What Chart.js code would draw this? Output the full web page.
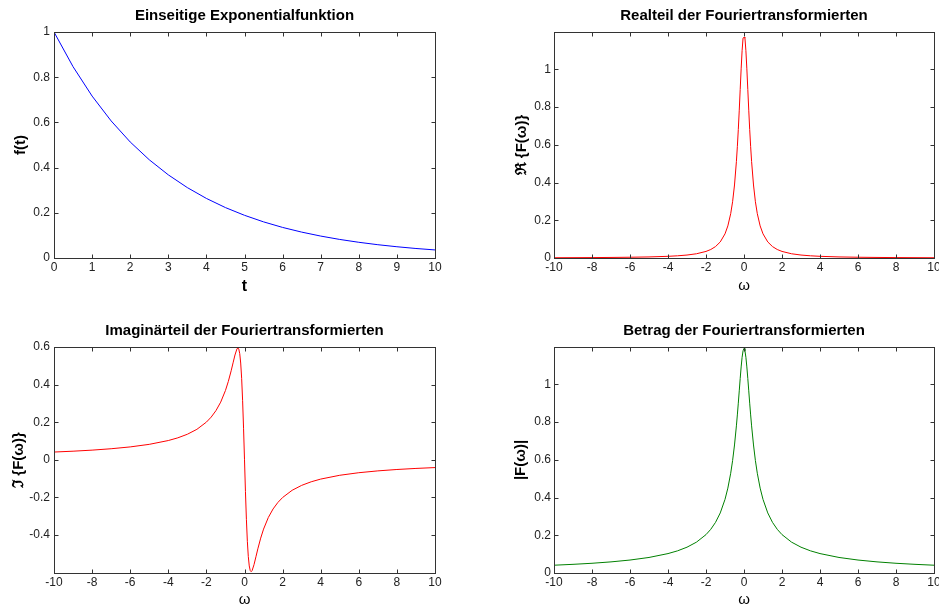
<!DOCTYPE html>
<html><head><meta charset="utf-8">
<script src="https://cdn.jsdelivr.net/npm/chart.js@4.4.0/dist/chart.umd.min.js"></script>
<style>
html,body{margin:0;padding:0;background:#fff;overflow:hidden;width:939px;height:610px;}
canvas{position:absolute;left:0;top:0;}
</style></head><body>
<canvas id="c1" width="939" height="610"></canvas>
<canvas id="c2" width="939" height="610"></canvas>
<canvas id="c3" width="939" height="610"></canvas>
<canvas id="c4" width="939" height="610"></canvas>
<script>
// ---- data ----
const tValues = [0,0.5,1,1.5,2,2.5,3,3.5,4,4.5,5,5.5,6,6.5,7,7.5,8,8.5,9,9.5,10];
const fValues = [1.000,0.8465,0.7165,0.6065,0.5134,0.4346,0.3679,0.3114,0.2636,0.2231,0.1889,0.1599,0.1353,0.1146,0.0970,0.0821,0.0695,0.0588,0.0498,0.0421,0.0357];

const omegaValues = [-10,-9,-8,-7,-6,-5,-4,-3.5,-3,-2.5,-2,-1.75,-1.5,-1.25,-1,-0.85,-0.7,-0.6,-0.5,-0.4,-0.35,-0.3,-0.25,-0.2,-0.15,-0.1,-0.05,
  0,
  0.05,0.1,0.15,0.2,0.25,0.3,0.35,0.4,0.5,0.6,0.7,0.85,1,1.25,1.5,1.75,2,2.5,3,3.5,4,5,6,7,8,9,10];

const realValues = [0.0014,0.0018,0.0022,0.0029,0.0040,0.0057,0.0089,0.0116,0.0157,0.0225,0.0348,0.0450,0.0605,0.0852,0.1280,0.1701,0.2349,0.2984,0.3870,0.5112,0.5901,0.6812,0.7835,0.8934,1.0027,1.0988,1.1658,
  1.17,
  1.1658,1.0988,1.0027,0.8934,0.7835,0.6812,0.5901,0.5112,0.3870,0.2984,0.2349,0.1701,0.1280,0.0852,0.0605,0.0450,0.0348,0.0225,0.0157,0.0116,0.0089,0.0057,0.0040,0.0029,0.0022,0.0018,0.0014];

const imagValues = [0.0413,0.0458,0.0515,0.0589,0.0686,0.0822,0.1025,0.1169,0.1359,0.1621,0.2005,0.2271,0.2614,0.3068,0.3686,0.4165,0.4736,0.5158,0.5575,0.5891,0.5950,0.5887,0.5644,0.5148,0.4334,0.3166,0.1680,
  0,
  -0.1680,-0.3166,-0.4334,-0.5148,-0.5644,-0.5887,-0.5950,-0.5891,-0.5575,-0.5158,-0.4736,-0.4165,-0.3686,-0.3068,-0.2614,-0.2271,-0.2005,-0.1621,-0.1359,-0.1169,-0.1025,-0.0822,-0.0686,-0.0589,-0.0515,-0.0458,-0.0413];

const absValues = [0.0413,0.0459,0.0516,0.0589,0.0687,0.0824,0.1029,0.1174,0.1368,0.1637,0.2035,0.2315,0.2683,0.3184,0.3902,0.4499,0.5287,0.5959,0.6786,0.7799,0.8380,0.9003,0.9656,1.0311,1.0923,1.1435,1.1778,
  1.19,
  1.1778,1.1435,1.0923,1.0311,0.9656,0.9003,0.8380,0.7799,0.6786,0.5959,0.5287,0.4499,0.3902,0.3184,0.2683,0.2315,0.2035,0.1637,0.1368,0.1174,0.1029,0.0824,0.0687,0.0589,0.0516,0.0459,0.0413];

const tTicks = [0,1,2,3,4,5,6,7,8,9,10];
const omegaTicks = [-10,-8,-6,-4,-2,0,2,4,6,8,10];
const fTicks = [0,0.2,0.4,0.6,0.8,1];
const realTicks = [0,0.2,0.4,0.6,0.8,1];
const imagTicks = [-0.4,-0.2,0,0.2,0.4,0.6];
const absTicks = [0,0.2,0.4,0.6,0.8,1];

const titles = ['Einseitige Exponentialfunktion','Realteil der Fouriertransformierten','Imaginärteil der Fouriertransformierten','Betrag der Fouriertransformierten'];
const yLabels = ['f(t)','\u211C {F(\u03C9)}','\u2111 {F(\u03C9)}','|F(\u03C9)|'];
const xLabels = ['t','\u03C9','\u03C9','\u03C9'];

// ---- drawing ----
const FONT = "'Liberation Sans', Arial, Helvetica, sans-serif";
const AXIS_COLOR = '#333';

const boxTicks = {
  id: 'boxTicks',
  afterDraw(chart) {
    const {ctx, chartArea, scales} = chart;
    const L = Math.round(chartArea.left) + 0.5, R = Math.round(chartArea.right) + 0.5;
    const T = Math.round(chartArea.top) + 0.5, B = Math.round(chartArea.bottom) + 0.5;
    const len = 4;
    ctx.save();
    ctx.strokeStyle = AXIS_COLOR;
    ctx.lineWidth = 1;
    ctx.beginPath();
    scales.x.ticks.forEach(t => {
      const px = Math.round(scales.x.getPixelForValue(t.value)) + 0.5;
      ctx.moveTo(px, B); ctx.lineTo(px, B - len);
      ctx.moveTo(px, T); ctx.lineTo(px, T + len);
    });
    scales.y.ticks.forEach(t => {
      const py = Math.round(scales.y.getPixelForValue(t.value)) + 0.5;
      ctx.moveTo(L, py); ctx.lineTo(L + len, py);
      ctx.moveTo(R, py); ctx.lineTo(R - len, py);
    });
    ctx.stroke();
    ctx.strokeRect(L, T, R - L, B - T);
    ctx.restore();
  }
};

function makeChart(id, cfg) {
  const points = cfg.xs.map((x, i) => ({x: x, y: cfg.ys[i]}));
  return new Chart(document.getElementById(id), {
    type: 'line',
    data: { datasets: [{ data: points, borderColor: cfg.color, borderWidth: 1, pointRadius: 0, tension: 0, fill: false }] },
    options: {
      responsive: false, animation: false, devicePixelRatio: 1,
      events: [],
      layout: { padding: cfg.padding },
      plugins: {
        legend: { display: false }, tooltip: { enabled: false },
        title: { display: true, text: cfg.title, fullSize: false, color: '#000',
          font: { family: FONT, size: 15, weight: 'bold' }, padding: { top: 0, bottom: 7 } }
      },
      scales: {
        x: {
          type: 'linear', min: cfg.xmin, max: cfg.xmax,
          grid: { display: false, drawTicks: false }, border: { display: false },
          afterBuildTicks: s => { s.ticks = cfg.xticks.map(v => ({value: v})); },
          afterFit: s => { s.height = cfg.xh; s.paddingLeft = 0; s.paddingRight = 0; },
          ticks: { autoSkip: false, maxRotation: 0, padding: 2.5, color: '#222', font: { family: FONT, size: 12 }, callback: v => String(v) },
          title: { display: true, text: cfg.xlabel, color: '#000', font: cfg.xfont, padding: { top: 0, bottom: cfg.xpb } }
        },
        y: {
          type: 'linear', min: cfg.ymin, max: cfg.ymax,
          grid: { display: false, drawTicks: false }, border: { display: false },
          afterBuildTicks: s => { s.ticks = cfg.yticks.map(v => ({value: v})); },
          afterFit: s => { s.width = cfg.yw; s.paddingTop = 0; s.paddingBottom = 0; },
          ticks: { autoSkip: false, padding: cfg.ytp, color: '#222', font: { family: FONT, size: 12 }, callback: v => String(v) },
          title: { display: true, text: cfg.ylabel, color: '#000', font: { family: FONT, size: 15, weight: 'bold' }, padding: { top: cfg.ypt, bottom: 0 } }
        }
      }
    },
    plugins: [boxTicks]
  });
}

const boldX = { family: FONT, size: 16, weight: 'bold' };
const normX = { family: FONT, size: 15 };

makeChart('c1', { xs: tValues, ys: fValues, color: '#0000ff', title: titles[0],
  padding: { left: 0, top: 7, right: 504, bottom: 312 }, xh: 40, yw: 54, ytp: 4, ypt: 12,
  xmin: 0, xmax: 10, ymin: 0, ymax: 1, xticks: tTicks, yticks: fTicks,
  xlabel: xLabels[0], xfont: boldX, xpb: 2, ylabel: yLabels[0] });

makeChart('c2', { xs: omegaValues, ys: realValues, color: '#ff0000', title: titles[1],
  padding: { left: 470, top: 7, right: 5, bottom: 312 }, xh: 40, yw: 84, ytp: 3, ypt: 42.5,
  xmin: -10, xmax: 10, ymin: 0, ymax: 1.198, xticks: omegaTicks, yticks: realTicks,
  xlabel: xLabels[1], xfont: normX, xpb: 3.5, ylabel: yLabels[1] });

makeChart('c3', { xs: omegaValues, ys: imagValues, color: '#ff0000', title: titles[2],
  padding: { left: 0, top: 322, right: 504, bottom: 0 }, xh: 37, yw: 54, ytp: 4, ypt: 9.5,
  xmin: -10, xmax: 10, ymin: -0.602, ymax: 0.6, xticks: omegaTicks, yticks: imagTicks,
  xlabel: xLabels[2], xfont: normX, xpb: 1, ylabel: yLabels[2] });

makeChart('c4', { xs: omegaValues, ys: absValues, color: '#008000', title: titles[3],
  padding: { left: 470, top: 322, right: 5, bottom: 0 }, xh: 37, yw: 84, ytp: 3, ypt: 41.5,
  xmin: -10, xmax: 10, ymin: 0, ymax: 1.198, xticks: omegaTicks, yticks: absTicks,
  xlabel: xLabels[3], xfont: normX, xpb: 1, ylabel: yLabels[3] });
</script>
</body></html>
